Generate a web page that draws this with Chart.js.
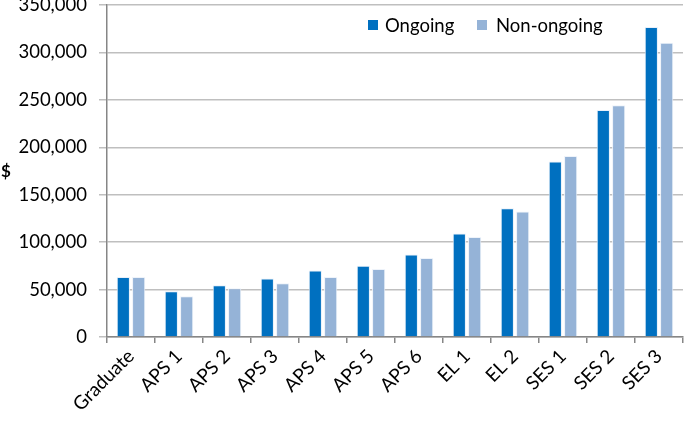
<!DOCTYPE html>
<html><head><meta charset="utf-8">
<script src="https://cdn.jsdelivr.net/npm/chart.js@4.4.0/dist/chart.umd.min.js"></script>
<style>html,body{margin:0;padding:0;background:#fff}#wrap{width:684px;height:421px;position:relative}</style>
</head><body><div id="wrap"><canvas id="c"></canvas></div>
<script>
const categories = ['Graduate','APS 1','APS 2','APS 3','APS 4','APS 5','APS 6','EL 1','EL 2','SES 1','SES 2','SES 3'];
const ongoing    = [63300, 48200, 54500, 61600, 70000, 75000, 87000, 109000, 135800, 185000, 239200, 326800];
const nonOngoing = [63300, 43000, 51400, 56700, 63300, 71800, 83400, 105500, 132300, 190700, 244200, 310200];
const seriesNames = ['Ongoing', 'Non-ongoing'];
const seriesColors = ['#0070C0', '#95B3D7'];
const yMin = 0, yMax = 350000, yStep = 50000;
const yTitle = '$';

const FONT = 'Lato, "Open Sans", sans-serif';

const overlay = {
  id: 'overlay',
  afterDraw(chart) {
    const ctx = chart.ctx, ca = chart.chartArea;
    ctx.save();
    ctx.fillStyle = '#000';
    ctx.font = 'bold 17px ' + FONT;
    ctx.textAlign = 'left';
    ctx.textBaseline = 'middle';
    ctx.fillText(yTitle, 1, 172);
    ctx.font = '18.5px ' + FONT;
    const items = [
      {sq: ca.left + 261, tx: ca.left + 278},
      {sq: ca.left + 370, tx: ca.left + 389}
    ];
    chart.data.datasets.forEach((ds, i) => {
      ctx.fillStyle = ds.backgroundColor;
      ctx.fillRect(items[i].sq, 20, 10, 10);
      ctx.fillStyle = '#000';
      ctx.fillText(ds.label, items[i].tx, 26);
    });
    ctx.restore();
  }
};

new Chart(document.getElementById('c'), {
  type: 'bar',
  data: {
    labels: categories,
    datasets: [
      {label: seriesNames[0], data: ongoing, backgroundColor: seriesColors[0], borderColor: '#E8F0FA', borderWidth: 1},
      {label: seriesNames[1], data: nonOngoing, backgroundColor: seriesColors[1], borderColor: '#EEF3FA', borderWidth: 1}
    ]
  },
  options: {
    responsive: true,
    maintainAspectRatio: false,
    animation: false,
    devicePixelRatio: 1,
    layout: {padding: {top: 5, right: 1, left: 0, bottom: 0}},
    categoryPercentage: 0.64,
    barPercentage: 0.86,
    plugins: {legend: {display: false}, tooltip: {enabled: false}},
    scales: {
      x: {
        grid: {display: true, drawOnChartArea: false, offset: true, color: '#868686', tickLength: 6, lineWidth: 1.5},
        border: {color: '#868686', width: 1.5},
        ticks: {font: {family: FONT, size: 19}, color: '#000', maxRotation: 45, minRotation: 45, padding: 2},
        afterFit(s) { s.height = 84; s.paddingLeft = 0; s.paddingRight = 0; }
      },
      y: {
        min: yMin, max: yMax,
        ticks: {stepSize: yStep, font: {family: FONT, size: 18.5}, color: '#000', padding: 12},
        grid: {color: '#BFBFBF', lineWidth: 1.5, tickLength: 8},
        border: {color: '#868686', width: 1.5},
        afterFit(s) { s.width = 107; s.paddingTop = 0; s.paddingBottom = 0; }
      }
    }
  },
  plugins: [overlay]
});
</script>
</body></html>
